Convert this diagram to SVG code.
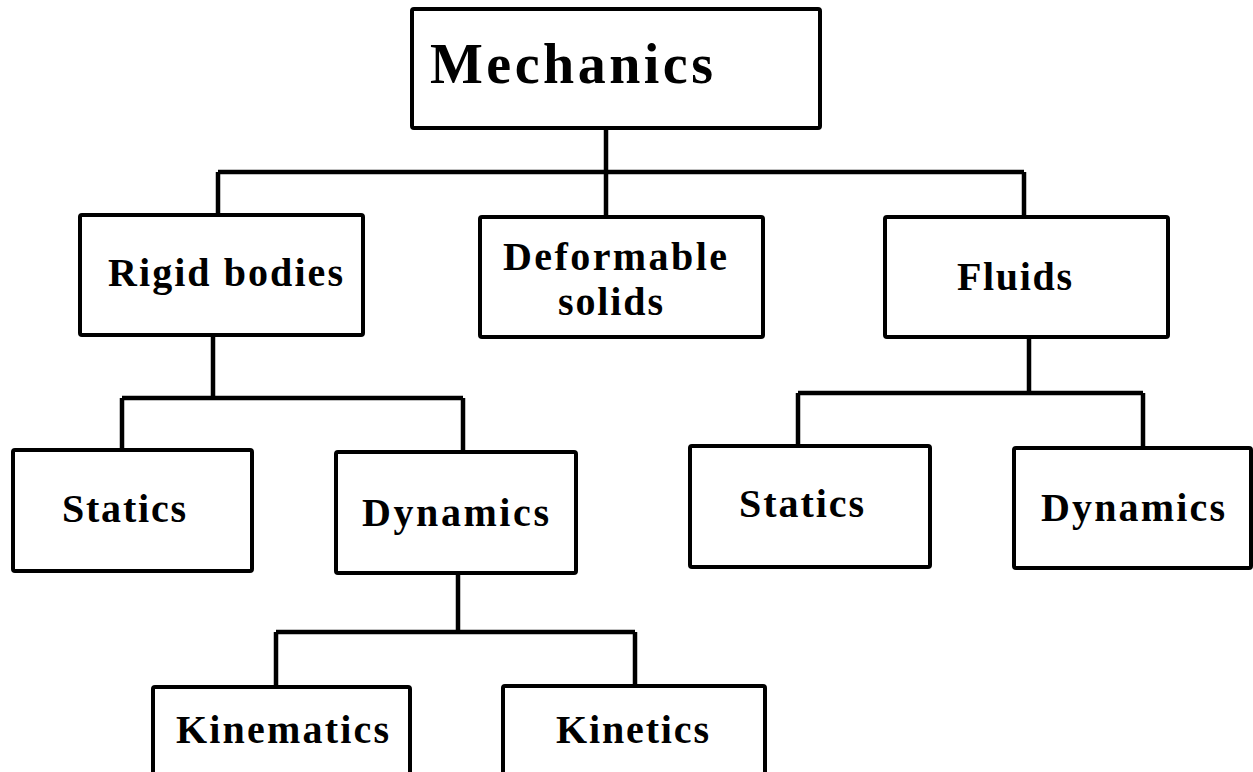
<svg xmlns="http://www.w3.org/2000/svg" width="1253" height="772" viewBox="0 0 1253 772">
<style>
  .box { fill: #ffffff; stroke: #000000; stroke-width: 4; stroke-linejoin: round; }
  .conn { fill: none; stroke: #000000; stroke-width: 4.5; stroke-linecap: butt; stroke-linejoin: miter; }
  .lbl { font-family: "Liberation Serif", "Times New Roman", serif; font-weight: bold; font-size: 40px; fill: #000000; }
  .big { font-size: 56px; }
</style>
<rect x="0" y="0" width="1253" height="772" fill="#ffffff"/>
<g id="connectors">
  <path class="conn" d="M606,128 V172 M218,172 H1024 M218,172 V215 M606,172 V217 M1024,172 V217"/>
  <path class="conn" d="M213,335 V398 M122,398 H463 M122,398 V450 M463,398 V452"/>
  <path class="conn" d="M1029,337 V393 M798,393 H1143 M798,393 V446 M1143,393 V448"/>
  <path class="conn" d="M458,573 V632 M276,632 H635 M276,632 V687 M635,632 V686"/>
</g>
<g id="mechanics">
  <rect class="box" x="412" y="9" width="408" height="119" rx="2"/>
  <text class="lbl big" x="430" y="83" textLength="283" lengthAdjust="spacing">Mechanics</text>
</g>
<g id="rigid-bodies">
  <rect class="box" x="80" y="215" width="283" height="120" rx="2"/>
  <text class="lbl" x="108" y="286" textLength="235" lengthAdjust="spacing">Rigid bodies</text>
</g>
<g id="deformable-solids">
  <rect class="box" x="480" y="217" width="283" height="120" rx="2"/>
  <text class="lbl" x="503" y="270" textLength="224" lengthAdjust="spacing">Deformable</text>
  <text class="lbl" x="558" y="315" textLength="105" lengthAdjust="spacing">solids</text>
</g>
<g id="fluids">
  <rect class="box" x="885" y="217" width="283" height="120" rx="2"/>
  <text class="lbl" x="957" y="290" textLength="115" lengthAdjust="spacing">Fluids</text>
</g>
<g id="statics-rigid">
  <rect class="box" x="13" y="450" width="239" height="121" rx="2"/>
  <text class="lbl" x="62" y="522" textLength="124" lengthAdjust="spacing">Statics</text>
</g>
<g id="dynamics-rigid">
  <rect class="box" x="336" y="452" width="240" height="121" rx="2"/>
  <text class="lbl" x="362" y="526" textLength="187" lengthAdjust="spacing">Dynamics</text>
</g>
<g id="statics-fluids">
  <rect class="box" x="690" y="446" width="240" height="121" rx="2"/>
  <text class="lbl" x="739" y="517" textLength="125" lengthAdjust="spacing">Statics</text>
</g>
<g id="dynamics-fluids">
  <rect class="box" x="1014" y="448" width="237" height="120" rx="2"/>
  <text class="lbl" x="1041" y="521" textLength="184" lengthAdjust="spacing">Dynamics</text>
</g>
<g id="kinematics">
  <rect class="box" x="153" y="687" width="257" height="110" rx="2"/>
  <text class="lbl" x="176" y="743" textLength="213" lengthAdjust="spacing">Kinematics</text>
</g>
<g id="kinetics">
  <rect class="box" x="503" y="686" width="262" height="110" rx="2"/>
  <text class="lbl" x="556" y="743" textLength="153" lengthAdjust="spacing">Kinetics</text>
</g>
</svg>
